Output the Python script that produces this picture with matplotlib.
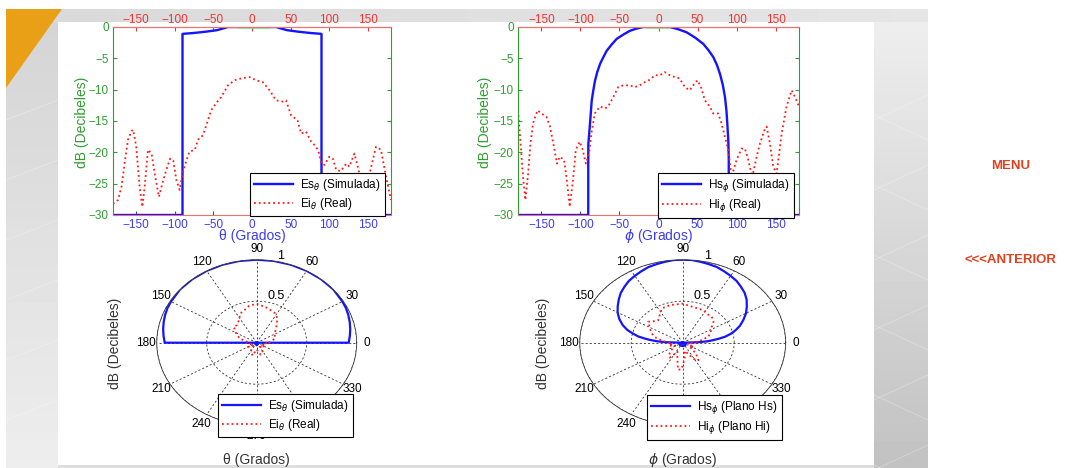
import numpy as np
import matplotlib
matplotlib.use('Agg')
import matplotlib.pyplot as plt
from matplotlib.patches import Polygon, Rectangle

plt.rcParams['font.family'] = ['Liberation Sans', 'DejaVu Sans']
plt.rcParams['mathtext.fontset'] = 'dejavusans'

# ---- datos: diagrama rectangular (dB) ----
es_theta = [-180, -90, -90, -75, -60, -45, -31, 0, 31, 45, 60, 75, 90, 90, 180]
es_db = [-30, -30, -1.1, -0.95, -0.75, -0.5, 0, 0, 0, -0.5, -0.75, -0.95, -1.1, -30, -30]

ei_theta = [-180, -173.5, -169, -165, -160.6, -156, -154, -150, -145.5, -142,
            -139, -134.7, -130, -126, -120.5, -116.6, -111, -106, -102, -98,
            -93.7, -90, -85, -81, -74, -70, -63.6, -57, -53, -46.6,
            -40, -31, -22.6, -14, -3, 5.4, 14, 22.8, 31, 40,
            44, 50.7, 59, 63.6, 70, 76.6, 83, 87, 89.6, 94,
            100, 104.7, 109, 115, 122, 126, 132.6, 137, 141, 147,
            153, 160.6, 167, 173.6, 180]
ei_db = [-28.2, -27.6, -25.5, -21.8, -18, -16.6, -16.4, -19, -25.5, -28.7,
         -25.5, -19.6, -20.2, -23.4, -27.1, -25.2, -22.8, -21, -21.3, -24.4,
         -26, -23.4, -21.3, -19.9, -19.6, -18, -17.3, -14.9, -13.3, -12.2,
         -11.2, -9.3, -8.5, -8.2, -8.0, -8.5, -8.8, -10.1, -11.7, -11.9,
         -11.7, -14.1, -14.9, -17, -16.7, -18.3, -19.1, -20.2, -21.8, -22,
         -20.7, -21, -22.8, -23, -21.8, -22.3, -20.2, -22.3, -24.4, -25,
         -23, -19.1, -19.6, -23.9, -27.6]

hs_phi = [-180, -90, -90, -89.9, -87.8, -85.6, -83.5, -81.4, -78.5, -74.9, -71, -66.4, -60, -53.6,
          -45, -36.5, -28, -19.5, 14.7, 25, 36.1, 47, 57.4, 64, 70.2, 75, 78.8, 82.3, 85.2,
          87, 88.2, 89.4, 90, 90, 180]
hs_db = [-30, -30, -22, -18.7, -15.5, -11.8, -10.1, -8.6, -7.2, -5.9, -4.9, -3.8, -2.8, -1.9,
         -1.2, -0.6, -0.25, 0, 0, -0.35, -0.85, -1.7, -2.7, -3.7, -4.8, -6.1, -7.5, -9.2, -11.2,
         -13.3, -15.5, -18.1, -21, -30, -30]

hi_phi = [-180, -177, -173.6, -170.6, -167, -164, -160.8, -155, -150, -143.7,
          -139, -134, -130, -126.6, -121, -118, -113.7, -109.5, -106, -101,
          -97.5, -93, -89, -86, -81.7, -75, -68.8, -64.6, -58, -51.7,
          -45, -36.8, -30.4, -24, -17.5, -11, -4.7, 1.7, 8, 14.5,
          21, 27, 33.8, 40, 44.5, 50, 55, 59.4, 65.8, 70,
          76.5, 80.8, 85, 89.4, 93.6, 100, 106.5, 110.7, 115, 120,
          125.7, 130, 136.4, 138.5, 142.8, 147, 151.3, 157.8, 164, 170.6,
          175, 180]
hi_db = [-13.3, -18, -23.9, -27.6, -23.4, -18.6, -15.4, -13.3, -13.8, -14.3,
         -15.9, -19.1, -21.8, -20.7, -21.2, -23.9, -28.7, -24.4, -19.6, -18.3,
         -19.4, -21.8, -20.2, -17, -13.8, -12.7, -13, -12.7, -11.2, -9.6,
         -9.3, -9.3, -9.6, -9.3, -8.8, -8.4, -7.7, -7.7, -7.2, -7.7,
         -8, -8.2, -9.6, -10.1, -9.3, -8.5, -9.8, -11.7, -12.7, -13.8,
         -13.8, -15.4, -17.5, -19.6, -23.9, -21.2, -19.4, -19.4, -21.2, -24,
         -20.7, -18.6, -16.2, -15.9, -18.6, -22.3, -23.4, -17, -12.7, -10.1,
         -11.2, -12.7]

# segmento verde en 0 dB
ref_theta = [-18, 19]
ref_phi = [-15, 12]

# ---- datos: diagrama polar (lineal) ----
es_pol_ang = [0, 0, 5, 10, 15, 20, 25, 30, 40, 50, 60, 70, 80, 90, 100, 110, 120, 130, 140,
              150, 155, 160, 165, 170, 175, 180, 180, 225, 270, 315, 360]
es_pol_r = [0, 0.92, 0.935, 0.95, 0.963, 0.975, 0.985, 0.99, 1.0, 1.0, 1.0, 1.0, 1.0, 1.0, 1.0, 1.0, 1.0, 1.0, 1.0,
            0.99, 0.985, 0.975, 0.963, 0.95, 0.935, 0.92, 0, 0.02, 0.03, 0.02, 0]

ei_pol_ang = [0, 15, 31, 45, 55, 63, 75, 90, 100, 110, 115, 122, 133, 140, 150, 163, 180,
              195, 210, 225, 240, 255, 270, 285, 300, 315, 330, 345, 360]
ei_pol_r = [0.12, 0.19, 0.21, 0.28, 0.36, 0.40, 0.43, 0.47, 0.45, 0.40, 0.39, 0.33, 0.29, 0.30, 0.24, 0.18, 0.08,
            0.06, 0.10, 0.05, 0.12, 0.16, 0.08, 0.15, 0.12, 0.05, 0.10, 0.06, 0.12]

hs_pol_ang = [0, 2, 4, 6, 8, 10, 13, 16, 20, 25, 30, 35, 40, 45, 50, 55, 60, 65, 70, 75, 80, 85, 90,
              95, 100, 105, 110, 115, 120, 125, 130, 135, 140, 145, 150, 155, 160, 164, 167, 170, 172,
              174, 176, 178, 180, 200, 230, 260, 270, 280, 310, 340, 360]
hs_pol_r = [0, 0.14, 0.24, 0.30, 0.36, 0.42, 0.48, 0.53, 0.59, 0.65, 0.71, 0.76, 0.81, 0.85, 0.88, 0.91, 0.93,
            0.95, 0.97, 0.98, 0.99, 1.0, 1.0,
            1.0, 0.99, 0.98, 0.97, 0.95, 0.93, 0.91, 0.88, 0.85, 0.81, 0.77, 0.73, 0.68, 0.62, 0.56, 0.5, 0.44,
            0.38, 0.32, 0.25, 0.16, 0, 0.03, 0.04, 0.04, 0.03, 0.04, 0.04, 0.03, 0]

hi_pol_ang = [0, 5, 16, 25, 34, 41, 48, 55, 63, 75, 90, 105, 116, 124, 131, 137, 143, 152, 160, 168, 175,
              185, 195, 205, 215, 225, 235, 245, 255, 262, 268, 275, 283, 292, 300, 306, 315, 325, 335, 345, 360]
hi_pol_r = [0.08, 0.15, 0.26, 0.30, 0.34, 0.40, 0.42, 0.42, 0.44, 0.44, 0.47, 0.47, 0.46, 0.40, 0.36, 0.38, 0.42, 0.36, 0.32, 0.26, 0.18,
            0.10, 0.14, 0.08, 0.12, 0.18, 0.22, 0.12, 0.20, 0.33, 0.32, 0.20, 0.10, 0.15, 0.24, 0.26, 0.18, 0.08, 0.12, 0.05, 0.08]

W, H = 1071, 468
BLUE = '#1414ff'
RED = '#ff1a1a'
GREEN = '#2f9e2f'
LBLUE = '#3c3cf5'
LRED = '#ee3535'

fig = plt.figure(figsize=(W / 100, H / 100), dpi=100)


def rect(x0, y0, x1, y1):
    return [x0 / W, 1 - y1 / H, (x1 - x0) / W, (y1 - y0) / H]


def ftext(x, y, s, **kw):
    return fig.text(x / W, 1 - y / H, s, ha='center', va='center', **kw)


# ---- fondo de la diapositiva ----
bg = fig.add_axes([0, 0, 1, 1], zorder=-10)
bg.imshow(np.linspace(0.83, 0.93, 50)[:, None], extent=(6, 58, 468, 9), cmap='gray',
          vmin=0, vmax=1, aspect='auto', origin='upper')
bg.imshow(np.linspace(0.85, 0.90, 50)[None, :], extent=(6, 928, 22, 9), cmap='gray',
          vmin=0, vmax=1, aspect='auto', origin='upper')
bg.imshow(np.linspace(0.93, 0.76, 50)[:, None], extent=(874, 928, 468, 22), cmap='gray',
          vmin=0, vmax=1, aspect='auto', origin='upper')
bg.add_patch(Rectangle((58, 465), 816, 3, color='#dedede', lw=0))
bg.add_patch(Polygon([(6, 9), (62, 9), (6, 88)], closed=True, color='#e9a016', lw=0))
for k in range(6):
    bg.plot([6, 58], [120 + 60 * k, 100 + 60 * k], color='white', lw=0.5, alpha=0.35)
    bg.plot([874, 928], [120 + 70 * k, 95 + 70 * k], color='white', lw=0.5, alpha=0.35)
    bg.plot([874, 928], [115 + 70 * k, 140 + 70 * k], color='white', lw=0.5, alpha=0.35)
bg.set_xlim(0, W)
bg.set_ylim(H, 0)
bg.axis('off')

ftext(1011, 166, 'MENU', color='#e5401e', fontsize=9.5, fontweight='bold')
ftext(1010, 260, '<<<ANTERIOR', color='#e5401e', fontsize=9.5, fontweight='bold')


# ---- diagramas rectangulares ----
def top_plot(box, xs, ys, xr, yr, xref, labels, xlabel, ylab_x, leg_xy):
    ax = fig.add_axes(rect(*box))
    ax.plot(xs, ys, color=BLUE, lw=1.7, label=labels[0])
    ax.plot(xr, yr, color=RED, lw=1.3, ls=':', label=labels[1])
    ax.plot(xref, [0, 0], color='#7fe87f', lw=1.8)
    ax.set_xlim(-180, 180)
    ax.set_ylim(-30, 0)
    ax.set_xticks(range(-150, 151, 50))
    ax.set_yticks(range(-30, 1, 5))
    ax.tick_params(direction='in', length=3, labelsize=8.5, pad=3)
    ax.tick_params(axis='x', colors=LBLUE)
    ax.tick_params(axis='y', colors=GREEN, left=True, right=True)
    sec = ax.secondary_xaxis('top')
    sec.set_xticks(range(-150, 151, 50))
    sec.tick_params(direction='in', length=3, labelsize=8.5, colors=LRED, pad=1)
    sec.spines['top'].set_color('#f07070')
    ax.spines['bottom'].set_color('#f07070')
    ax.spines['top'].set_color('#f07070')
    ax.spines['left'].set_color(GREEN)
    ax.spines['right'].set_color(GREEN)
    cx = (box[0] + box[2]) / 2
    ftext(cx, 236, xlabel, color=LBLUE, fontsize=10)
    ftext(ylab_x, 122, 'dB (Decibeles)', color=GREEN, fontsize=10, rotation=90)
    leg = ax.legend(loc='upper left', bbox_to_anchor=(leg_xy[0] / W, 1 - leg_xy[1] / H),
                    bbox_transform=fig.transFigure, fancybox=False, edgecolor='black',
                    framealpha=1, fontsize=8.5, borderaxespad=0, handlelength=3.3,
                    borderpad=0.35, labelspacing=0.25, handletextpad=0.6)
    leg.get_frame().set_linewidth(0.8)
    return ax


top_plot((113, 27, 391, 215), es_theta, es_db, ei_theta, ei_db, ref_theta,
         [r'Es$_\theta$ (Simulada)', r'Ei$_\theta$ (Real)'], 'θ (Grados)', 82, (250, 173))
top_plot((518, 27, 799, 215), hs_phi, hs_db, hi_phi, hi_db, ref_phi,
         [r'Hs$_\phi$ (Simulada)', r'Hi$_\phi$ (Real)'], r'$\phi$ (Grados)', 485, (658, 173))


# ---- diagramas polares ----
def polar_plot(cx, cy, rx, ry, a1, r1, a2, r2, labels, xlabel, ylab_x, leg_xy):
    ax = fig.add_axes(rect(cx - rx, cy - ry, cx + rx, cy + ry), projection='polar')
    ax.set_aspect('auto')
    ax.plot(np.radians(a1), r1, color=BLUE, lw=1.6, label=labels[0])
    ax.plot(np.radians(a2), r2, color=RED, lw=1.3, ls=':', label=labels[1])
    ax.set_ylim(0, 1)
    ax.set_rgrids([0.5, 1.0], labels=['0.5', '1'], angle=78, fontsize=9)
    angs = list(range(0, 360, 30))
    ax.set_thetagrids(angs, labels=[str(a) for a in angs])
    ax.grid(True, color='#333333', ls=(0, (2.5, 2.5)), lw=0.6)
    ax.spines['polar'].set_linewidth(0.6)
    ax.spines['polar'].set_color('#333333')
    ax.tick_params(axis='x', labelsize=8.5, pad=-3)
    ftext(ylab_x, 343, 'dB (Decibeles)', color='#333333', fontsize=10, rotation=90)
    ftext(cx, 460, xlabel, color='#333333', fontsize=10)
    leg = ax.legend(loc='upper left', bbox_to_anchor=(leg_xy[0] / W, 1 - leg_xy[1] / H),
                    bbox_transform=fig.transFigure, fancybox=False, edgecolor='black',
                    framealpha=1, fontsize=8.5, borderaxespad=0, handlelength=3.3,
                    borderpad=0.35, labelspacing=0.25, handletextpad=0.6)
    leg.get_frame().set_linewidth(0.8)
    return ax


polar_plot(256.7, 342.7, 100, 83, es_pol_ang, es_pol_r, ei_pol_ang, ei_pol_r,
           [r'Es$_\theta$ (Simulada)', r'Ei$_\theta$ (Real)'], 'θ (Grados)', 115, (218, 394))
polar_plot(682.7, 342.7, 103, 83, hs_pol_ang, hs_pol_r, hi_pol_ang, hi_pol_r,
           [r'Hs$_\phi$ (Plano Hs)', r'Hi$_\phi$ (Plano Hi)'], r'$\phi$ (Grados)', 543, (647, 395))

fig.savefig('out.png', dpi=100)
